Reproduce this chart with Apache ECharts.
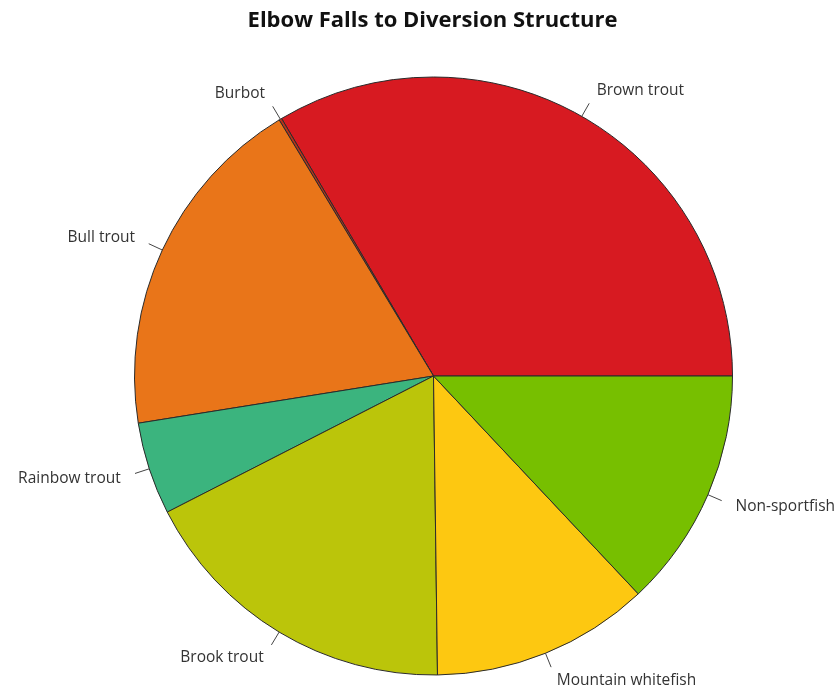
<!DOCTYPE html>
<html>
<head>
<meta charset="utf-8">
<script src="https://cdn.jsdelivr.net/npm/echarts@6/dist/echarts.min.js"></script>
<style>
  html, body { margin: 0; padding: 0; background: #ffffff; }
  #chart { width: 837px; height: 690px; }
</style>
</head>
<body>
<div id="chart"></div>
<script>
// Catch composition by species (percent of total), Elbow Falls to Diversion Structure
const species = ['Brown trout', 'Burbot', 'Bull trout', 'Rainbow trout', 'Brook trout', 'Mountain whitefish', 'Non-sportfish'];
const shares = [33.5, 0.15, 18.9, 5.0, 17.7, 11.8, 13.0];
const sliceColors = ['#d71a21', '#b8321a', '#e97519', '#3bb47e', '#bbc50a', '#fdc811', '#77bf00'];

const CENTER_X = 433.5;
const RADIUS = 299;
const LABEL_GAP = 15; // distance from end of leader line to text

const chart = echarts.init(document.getElementById('chart'));

chart.setOption({
  animation: false,
  title: {
    text: 'Elbow Falls to Diversion Structure',
    left: CENTER_X - 6,
    textAlign: 'center',
    top: 5,
    textStyle: {
      fontFamily: 'Open Sans',
      fontSize: 22,
      fontWeight: 'bold',
      color: '#111111'
    }
  },
  series: [{
    type: 'pie',
    center: [CENTER_X, 376],
    radius: [0, RADIUS],
    startAngle: 0,
    clockwise: false,
    avoidLabelOverlap: false,
    minAngle: 0,
    data: species.map((name, i) => ({
      name: name,
      value: shares[i],
      itemStyle: { color: sliceColors[i] }
    })),
    itemStyle: {
      borderColor: '#2a2a2a',
      borderWidth: 1
    },
    emphasis: { disabled: true },
    label: {
      show: true,
      position: 'outside',
      formatter: '{b}',
      fontFamily: 'Open Sans',
      fontSize: 15.5,
      color: '#333333'
    },
    labelLine: {
      show: true,
      length: 15,
      length2: 0,
      lineStyle: { color: '#444444', width: 1 }
    },
    // Put each label on the radial line, just beyond the short leader tick
    labelLayout: function (params) {
      const pts = params.labelLinePoints;
      if (!pts) return {};
      const p0 = pts[0], p1 = pts[1];
      let dx = p1[0] - p0[0], dy = p1[1] - p0[1];
      const len = Math.sqrt(dx * dx + dy * dy) || 1;
      dx /= len; dy /= len;
      return {
        x: p1[0] + dx * LABEL_GAP,
        y: p1[1] + dy * LABEL_GAP,
        align: dx >= 0 ? 'left' : 'right',
        verticalAlign: 'middle',
        labelLinePoints: [p0, p1, p1]
      };
    }
  }]
});
</script>
</body>
</html>
